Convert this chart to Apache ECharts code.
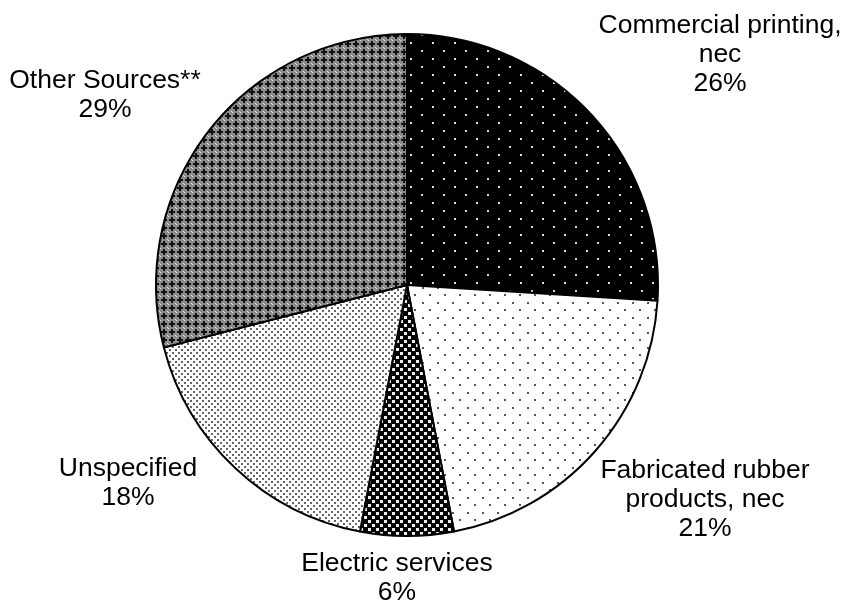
<!DOCTYPE html>
<html><head><meta charset="utf-8">
<script src="https://cdn.jsdelivr.net/npm/echarts@6/dist/echarts.min.js"></script>
<style>html,body{margin:0;padding:0;background:#fff}#c{width:842px;height:603px}</style>
</head><body><div id="c"></div>
<script>
var categories = ['Commercial printing,\nnec', 'Fabricated rubber\nproducts, nec', 'Electric services', 'Unspecified', 'Other Sources**'];
var values = [26, 21, 6, 18, 29];
var labelPos = [[720, 55], [705, 500], [397, 578], [128, 483], [105, 95]];

function tile(w, h, bg, draw) {
  var c = document.createElement('canvas');
  c.width = w; c.height = h;
  var g = c.getContext('2d');
  g.fillStyle = bg; g.fillRect(0, 0, w, h);
  draw(g);
  return { image: c, repeat: 'repeat' };
}
var patterns = [
  tile(22, 16, '#000', function (g) { g.fillStyle = '#ddd'; g.fillRect(3, 2, 2, 2); g.fillRect(14, 10, 2, 2); }),
  tile(15, 15, '#fff', function (g) { g.fillStyle = '#555'; g.fillRect(2, 2, 2, 2); g.fillRect(9, 9, 2, 2); }),
  tile(8, 8, '#000', function (g) { g.fillStyle = '#eee'; g.fillRect(0, 0, 3, 3); g.fillRect(4, 4, 3, 3); }),
  tile(6, 6, '#fff', function (g) { g.fillStyle = '#666'; g.fillRect(1, 1, 2, 2); g.fillRect(4, 4, 2, 2); }),
  tile(8, 8, '#8c8c8c', function (g) {
    g.fillStyle = '#111'; g.fillRect(3, 1, 2, 6); g.fillRect(1, 3, 6, 2);
    g.fillStyle = '#e0e0e0'; g.fillRect(0, 0, 1, 1); g.fillRect(7, 7, 1, 1);
  })
];

var chart = echarts.init(document.getElementById('c'));
chart.setOption({
  animation: false,
  backgroundColor: '#fff',
  series: [{
    type: 'pie',
    center: [407, 285],
    radius: 251,
    startAngle: 90,
    clockwise: true,
    silent: true,
    data: categories.map(function (n, i) {
      return { name: n, value: values[i], itemStyle: { color: patterns[i] } };
    }),
    itemStyle: { borderColor: '#000', borderWidth: 2 },
    label: {
      show: true,
      formatter: function (p) { return p.name + '\n' + p.value + '%'; },
      fontFamily: 'Liberation Sans, Arial, sans-serif',
      fontSize: 26.5,
      lineHeight: 29,
      color: '#000',
      align: 'center',
      overflow: 'none',
      width: 400
    },
    labelLine: { show: false },
    labelLayout: function (p) {
      var pos = labelPos[p.dataIndex];
      return { x: pos[0], y: pos[1], align: 'center', verticalAlign: 'middle' };
    }
  }]
});
</script></body></html>
